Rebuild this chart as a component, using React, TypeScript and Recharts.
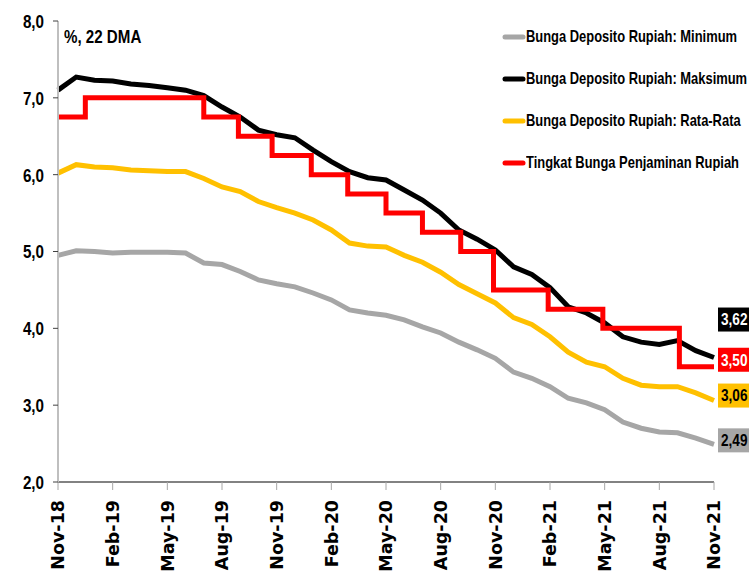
import { Legend, Line, LineChart, XAxis, YAxis } from "recharts";

// month index 0 = Nov-18 ... 36 = Nov-21
const months = [
  0, 1, 2, 3, 4, 5, 6, 7, 8, 9, 10, 11, 12, 13, 14, 15, 16, 17, 18, 19, 20, 21,
  22, 23, 24, 25, 26, 27, 28, 29, 30, 31, 32, 33, 34, 35, 36,
];
const minRate = [
  4.95, 5.01, 5.0, 4.98, 4.99, 4.99, 4.99, 4.98, 4.85, 4.83, 4.74, 4.63, 4.58,
  4.54, 4.46, 4.37, 4.24, 4.2, 4.17, 4.11, 4.02, 3.94, 3.82, 3.72, 3.61, 3.43,
  3.35, 3.24, 3.09, 3.03, 2.94, 2.78, 2.7, 2.65, 2.64, 2.57, 2.49,
];
const maxRate = [
  7.1, 7.27, 7.23, 7.22, 7.18, 7.16, 7.13, 7.1, 7.03, 6.88, 6.75, 6.58, 6.52,
  6.48, 6.32, 6.17, 6.04, 5.96, 5.93, 5.8, 5.67, 5.5, 5.28, 5.16, 5.02, 4.8,
  4.7, 4.53, 4.28, 4.2, 4.07, 3.89, 3.82, 3.79, 3.84, 3.71, 3.62,
];
const avgRate = [
  6.02, 6.13, 6.1, 6.09, 6.06, 6.05, 6.04, 6.04, 5.95, 5.84, 5.78, 5.65, 5.57,
  5.5, 5.41, 5.28, 5.11, 5.07, 5.06, 4.95, 4.86, 4.73, 4.57, 4.45, 4.33, 4.14,
  4.05, 3.89, 3.69, 3.56, 3.5, 3.35, 3.26, 3.24, 3.24, 3.16, 3.06,
];
const lpsMonths = [
  0, 1.5, 8, 9.9, 11.75, 13.9, 15.9, 18, 20, 22.1, 23.9, 26.9, 29.9, 34.1, 36,
];
const lpsRate = [
  6.75, 7.0, 6.75, 6.5, 6.25, 6.0, 5.75, 5.5, 5.25, 5.0, 4.5, 4.25, 4.0, 3.5,
  3.5,
];
const tickMonths = [0, 3, 6, 9, 12, 15, 18, 21, 24, 27, 30, 33, 36];
const tickLabels = [
  "Nov-18", "Feb-19", "May-19", "Aug-19", "Nov-19", "Feb-20", "May-20",
  "Aug-20", "Nov-20", "Feb-21", "May-21", "Aug-21", "Nov-21",
];
const yTicks = [2, 3, 4, 5, 6, 7, 8];
const legendOrder = ["min", "max", "avg", "lps"];

const depositData = months.map((m, i) => ({
  m,
  min: minRate[i],
  max: maxRate[i],
  avg: avgRate[i],
}));
const lpsData = lpsMonths.map((m, i) => ({ m, lps: lpsRate[i] }));

// no narrow font installed, so squeeze Liberation Sans bold horizontally
const SANS = '"Liberation Sans", Arial, sans-serif';
const fmt = (v: number) => v.toFixed(2).replace(".", ",");

const XTick = ({ x, payload }: any) => {
  const idx = tickMonths.indexOf(payload.value);
  const y0 = 500;
  return (
    <text
      x={x}
      y={y0}
      transform={`rotate(-90 ${x} ${y0})`}
      textAnchor="end"
      dy="0.36em"
      fontFamily="DejaVu Sans"
      fontWeight="bold"
      fontSize={17.5}
      fill="#000"
    >
      {tickLabels[idx]}
    </text>
  );
};

const YTick = ({ x, y, payload }: any) => (
  <text
    transform={`translate(${x} ${y}) scale(0.8 1)`}
    textAnchor="end"
    dy="0.36em"
    fontFamily={SANS}
    fontWeight="bold"
    fontSize={19}
    fill="#000"
  >
    {payload.value.toFixed(1).replace(".", ",")}
  </text>
);

const makeEndLabel =
  (last: number, bg: string, fg: string, dy: number) => (props: any) => {
    const { y, index, value } = props;
    if (index !== last) return null;
    const cy = y + dy;
    return (
      <g>
        <rect x={718} y={cy - 12} width={40} height={24} fill={bg} />
        <text
          transform={`translate(721 ${cy}) scale(0.85 1)`}
          dy="0.36em"
          fontFamily={SANS}
          fontWeight="bold"
          fontSize={16}
          fill={fg}
        >
          {fmt(value)}
        </text>
      </g>
    );
  };

const renderLegend = ({ payload }: any) => {
  const items = [...(payload || [])].sort(
    (a: any, b: any) =>
      legendOrder.indexOf(a.dataKey) - legendOrder.indexOf(b.dataKey)
  );
  return (
    <div style={{ fontFamily: SANS, fontWeight: "bold", fontSize: 17 }}>
      {items.map((p: any) => (
        <div
          key={p.dataKey}
          style={{ display: "flex", alignItems: "center", height: 42, whiteSpace: "nowrap" }}
        >
          <svg width={24} height={8} style={{ flexShrink: 0 }}>
            <line
              x1={3}
              y1={4}
              x2={21}
              y2={4}
              stroke={p.color || p.payload?.stroke}
              strokeWidth={5}
              strokeLinecap="round"
            />
          </svg>
          <span
            style={{
              color: "#000",
              display: "inline-block",
              transform: "scaleX(0.76)",
              transformOrigin: "left center",
            }}
          >
            {p.value}
          </span>
        </div>
      ))}
    </div>
  );
};

export default function App() {
  return (
    <div style={{ position: "absolute", left: 0, top: 0, width: 749, height: 581, background: "#fff", overflow: "hidden" }}>
      <LineChart
        width={749}
        height={581}
        data={depositData}
        margin={{ top: 21, right: 35, bottom: 0, left: 0 }}
      >
        <XAxis
          dataKey="m"
          type="number"
          domain={[0, 36]}
          ticks={tickMonths}
          height={99}
          tick={<XTick />}
          tickSize={8}
          tickLine={{ stroke: "#a6a6a6" }}
          axisLine={{ stroke: "#595959", strokeWidth: 1.5 }}
          interval={0}
        />
        <YAxis
          type="number"
          domain={[2, 8]}
          ticks={yTicks}
          width={58}
          tickSize={5}
          tickMargin={9}
          tickLine={{ stroke: "#404040" }}
          axisLine={{ stroke: "#bfbfbf", strokeWidth: 2 }}
          tick={<YTick />}
          interval={0}
        />
        <Legend
          layout="horizontal"
          verticalAlign="middle"
          align="center"
          wrapperStyle={{ top: 16, left: 502, width: 250 }}
          content={renderLegend}
        />
        <Line
          name="Bunga Deposito Rupiah: Minimum"
          dataKey="min"
          stroke="#a6a6a6"
          strokeWidth={5}
          dot={false}
          isAnimationActive={false}
          label={makeEndLabel(months.length - 1, "#a6a6a6", "#000", -4)}
        />
        <Line
          name="Bunga Deposito Rupiah: Maksimum"
          dataKey="max"
          stroke="#000000"
          strokeWidth={5}
          dot={false}
          isAnimationActive={false}
          label={makeEndLabel(months.length - 1, "#000000", "#fff", -38)}
        />
        <Line
          name="Bunga Deposito Rupiah: Rata-Rata"
          dataKey="avg"
          stroke="#ffc000"
          strokeWidth={5}
          dot={false}
          isAnimationActive={false}
          label={makeEndLabel(months.length - 1, "#ffc000", "#000", -5)}
        />
        <Line
          name="Tingkat Bunga Penjaminan Rupiah"
          data={lpsData}
          dataKey="lps"
          type="stepAfter"
          stroke="#ff0000"
          strokeWidth={5}
          dot={false}
          isAnimationActive={false}
          label={makeEndLabel(lpsData.length - 1, "#ff0000", "#fff", -7)}
        />
      </LineChart>
      <div
        style={{
          position: "absolute",
          left: 64,
          top: 27,
          fontFamily: SANS,
          fontWeight: "bold",
          fontSize: 18,
          color: "#000",
          whiteSpace: "nowrap",
          transform: "scaleX(0.84)",
          transformOrigin: "left center",
        }}
      >
        %, 22 DMA
      </div>
    </div>
  );
}
